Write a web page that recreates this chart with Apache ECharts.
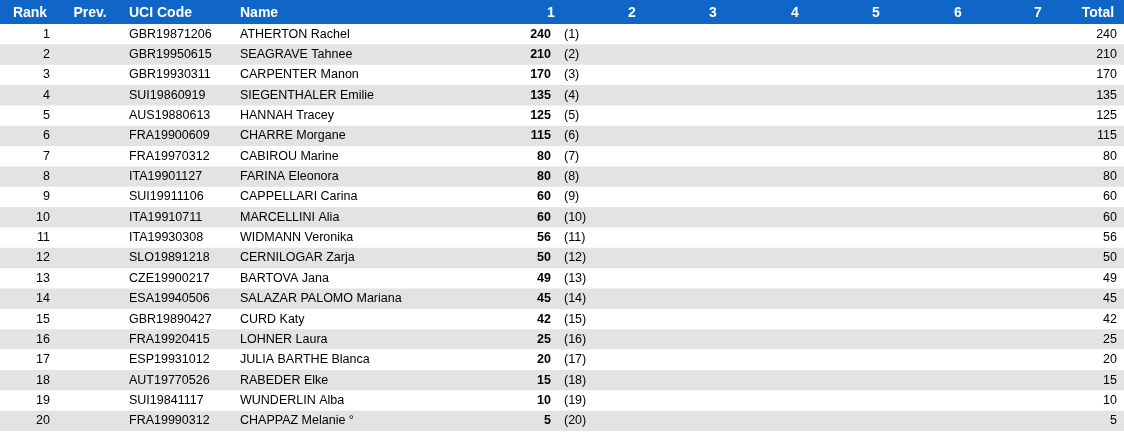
<!DOCTYPE html><html><head><meta charset="utf-8">
<script src="https://cdn.jsdelivr.net/npm/echarts@6/dist/echarts.min.js"></script>
<style>html,body{margin:0;padding:0;background:#fff}#c{width:1124px;height:435px}</style></head><body><div id="c"></div>
<script>
const headers=["Rank","Prev.","UCI Code","Name","1","2","3","4","5","6","7","Total"];
const ranks=[1,2,3,4,5,6,7,8,9,10,11,12,13,14,15,16,17,18,19,20];
const uciCodes=["GBR19871206","GBR19950615","GBR19930311","SUI19860919","AUS19880613","FRA19900609","FRA19970312","ITA19901127","SUI19911106","ITA19910711","ITA19930308","SLO19891218","CZE19900217","ESA19940506","GBR19890427","FRA19920415","ESP19931012","AUT19770526","SUI19841117","FRA19990312"];
const names=["ATHERTON Rachel","SEAGRAVE Tahnee","CARPENTER Manon","SIEGENTHALER Emilie","HANNAH Tracey","CHARRE Morgane","CABIROU Marine","FARINA Eleonora","CAPPELLARI Carina","MARCELLINI Alia","WIDMANN Veronika","CERNILOGAR Zarja","BARTOVA Jana","SALAZAR PALOMO Mariana","CURD Katy","LOHNER Laura","JULIA BARTHE Blanca","RABEDER Elke","WUNDERLIN Alba","CHAPPAZ Melanie °"];
const race1=[240,210,170,135,125,115,80,80,60,60,56,50,49,45,42,25,20,15,10,5];
const race1Pos=[1,2,3,4,5,6,7,8,9,10,11,12,13,14,15,16,17,18,19,20];
const totals=[240,210,170,135,125,115,80,80,60,60,56,50,49,45,42,25,20,15,10,5];

const F='Liberation Sans, Arial, sans-serif';
const hx=[30,90,129,240,551,632,713,795,876,958,1038,1098];
const ha=['center','center','left','left','center','center','center','center','center','center','center','center'];
const chart=echarts.init(document.getElementById('c'));
const rowData=ranks.map((r,i)=>[i]);
chart.setOption({
  animation:false,
  grid:{left:0,right:0,top:24,bottom:4},
  xAxis:{type:'value',min:0,max:1124,show:false},
  yAxis:{type:'category',data:ranks.map(String),inverse:true,show:false},
  graphic:[{type:'rect',shape:{x:0,y:0,width:1124,height:24},style:{fill:'#0f66c6'}}].concat(
    headers.map((h,i)=>({type:'text',x:hx[i],y:13,style:{text:h,fill:'#fff',font:'bold 14px '+F,align:ha[i],verticalAlign:'middle'}}))),
  series:[{type:'custom',data:rowData,renderItem:(p,api)=>{
    const i=api.value(0);
    const y=api.coord([0,i])[1];
    const h=api.size([0,1])[1];
    const t=(x,s,align,bold)=>({type:'text',style:{x:x,y:y,text:s,fill:'#000',font:(bold?'bold ':'')+'12.5px '+F,align:align,verticalAlign:'middle'}});
    const ch=[];
    if(i%2===1) ch.push({type:'rect',shape:{x:0,y:y-h/2,width:1124,height:h},style:{fill:'#e3e3e3'}});
    ch.push(t(50,String(ranks[i]),'right'));
    ch.push(t(129,uciCodes[i],'left'));
    ch.push(t(240,names[i],'left'));
    ch.push(t(551,String(race1[i]),'right',true));
    ch.push(t(564,'('+race1Pos[i]+')','left'));
    ch.push(t(1117,String(totals[i]),'right'));
    return {type:'group',children:ch};
  }}]
});
</script></body></html>
